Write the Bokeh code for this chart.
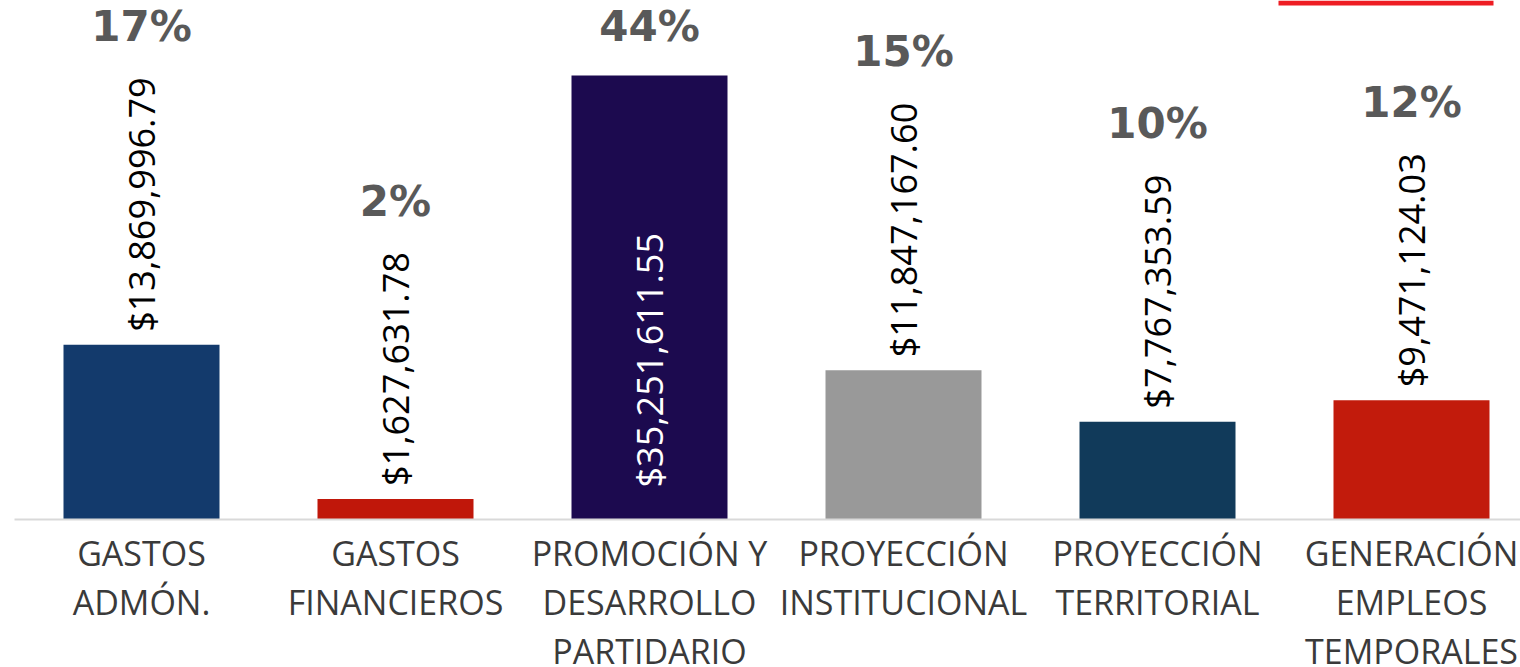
import math
from bokeh.plotting import figure
from bokeh.models import ColumnDataSource, Range1d, BoxAnnotation
from bokeh.core.properties import value
from bokeh.embed import file_html
from bokeh.resources import INLINE

# ---- data ----
categories = ["GASTOS\nADMÓN.", "GASTOS\nFINANCIEROS",
              "PROMOCIÓN Y\nDESARROLLO\nPARTIDARIO", "PROYECCIÓN\nINSTITUCIONAL",
              "PROYECCIÓN\nTERRITORIAL", "GENERACIÓN\nEMPLEOS\nTEMPORALES"]
amounts = [13869996.79, 1627631.78, 35251611.55, 11847167.60, 7767353.59, 9471124.03]
percents = ["17%", "2%", "44%", "15%", "10%", "12%"]
colors = ["#133A6C", "#C0170A", "#1C0A4F", "#999999", "#113A5A", "#C21B0C"]

W, H = 1520, 667
px_per_unit = 444 / max(amounts)
band_px = 254
x0_px = 141
base_px = 519

n = len(categories)
xs = list(range(n))
labels = [f"${v:,.2f}" for v in amounts]
inside = [v == max(amounts) for v in amounts]

VAL_FS = 36
def text_width(s):
    w = 0.0
    for ch in s:
        w += 0.25 if ch in ",." else 0.572
    return w * VAL_FS

val_y = [0 if ins else v for v, ins in zip(amounts, inside)]
val_off = [-32 if ins else -13 for ins in inside]
val_col = ["white" if ins else "black" for ins in inside]
pct_off = [-49 if ins else -(13 + text_width(l) + 52) for l, ins in zip(labels, inside)]

p = figure(width=W, height=H, output_backend="svg", toolbar_location=None,
           x_range=Range1d(-x0_px / band_px, (W - x0_px) / band_px),
           y_range=Range1d(-(H - base_px) / px_per_unit, base_px / px_per_unit),
           min_border=0, min_border_left=0, min_border_right=0,
           min_border_top=0, min_border_bottom=0)
p.xaxis.visible = False
p.yaxis.visible = False
p.grid.visible = False
p.outline_line_color = None
p.background_fill_color = "white"
p.border_fill_color = "white"

src = ColumnDataSource(dict(x=xs, top=amounts, color=colors, cat=categories,
                            label=labels, vy=val_y, voff=val_off, vcol=val_col,
                            pct=percents, poff=pct_off))

p.vbar(x="x", top="top", bottom=0, width=156 / band_px, fill_color="color",
       line_color=None, source=src)

p.segment(x0=[-0.5], y0=[0], x1=[n - 0.5], y1=[0], line_color="#D9D9D9", line_width=2)

p.text(x="x", y="vy", text="label", y_offset="voff", angle=math.pi / 2,
       text_align="left", text_baseline="middle", text_color="vcol",
       text_font=value("Open Sans"), text_font_size=f"{VAL_FS}px", source=src)

p.text(x="x", y="top", text="pct", y_offset="poff", text_align="center",
       text_baseline="alphabetic", text_color="#595959", text_font_style="bold",
       text_font=value("DejaVu Sans"), text_font_size="42px", source=src)

p.text(x="x", y=0, text="cat", y_offset=10, text_align="center", text_baseline="top",
       text_color="#3A3A3A", text_font=value("Open Sans"), text_font_size="34px",
       text_line_height=1.07, source=src)

p.add_layout(BoxAnnotation(left=1278, right=1493, top=H, bottom=H - 5,
                           left_units="screen", right_units="screen",
                           top_units="screen", bottom_units="screen",
                           fill_color="#EE1D23", fill_alpha=1, line_alpha=0))

open("out.html", "w").write(file_html(p, INLINE))
